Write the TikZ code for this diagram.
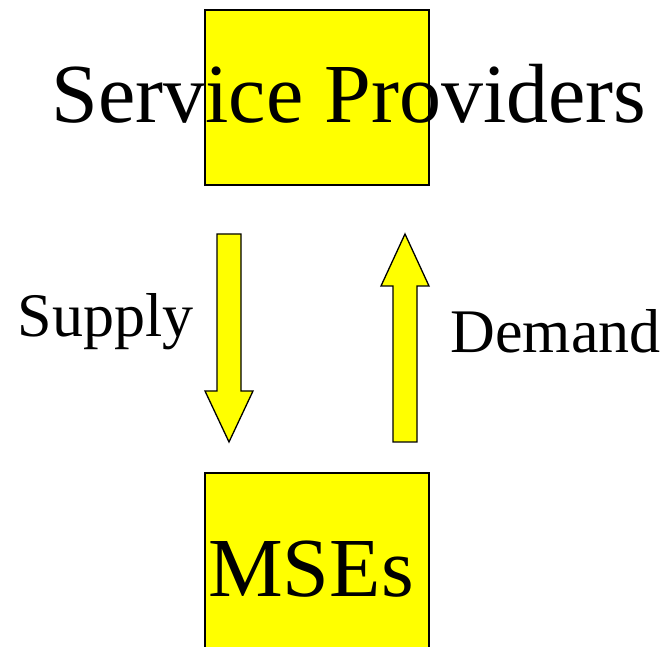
\documentclass[tikz,border=0pt]{standalone}
\usepackage{fontspec}
\setmainfont{Liberation Serif}
\usetikzlibrary{positioning}
\definecolor{boxyellow}{RGB}{255,255,0}

\begin{document}
\begin{tikzpicture}[
    x=1pt, y=1pt,
    box/.style={
        rectangle,
        draw=black,
        line width=1.5pt,
        fill=boxyellow,
        minimum width=224pt,
        inner sep=0pt
    },
    bigtext/.style={
        anchor=base,
        inner sep=0pt,
        font=\fontsize{84pt}{96pt}\selectfont
    },
    flowtext/.style={
        anchor=base,
        inner sep=0pt,
        font=\fontsize{62pt}{72pt}\selectfont
    },
    blockarrow/.style={
        draw=black,
        line width=1.3pt,
        fill=boxyellow,
        line join=miter
    }
]
\useasboundingbox (0,0) rectangle (672,647);

% Boxes
\node[box, minimum height=175pt] (providers) at (317,549.5) {};
\node[box, minimum height=200pt] (mses) at (317,74) {};

% Box texts
\node[bigtext] (providerstext) at (349,524) {Service Providers};
\node[bigtext] (msestext) at (311,50) {MSEs};

% Supply (down)
\draw[blockarrow] (217,413) -- (241,413) -- (241,256) -- (253,256)
    -- (229,205) -- (205,256) -- (217,256) -- cycle;
\node[flowtext] (supply) at (105.5,310) {Supply};

% Demand (up)
\draw[blockarrow] (393,205) -- (417,205) -- (417,361) -- (429,361)
    -- (405,413) -- (381,361) -- (393,361) -- cycle;
\node[flowtext] (demand) at (555.5,294) {Demand};

\end{tikzpicture}
\end{document}
